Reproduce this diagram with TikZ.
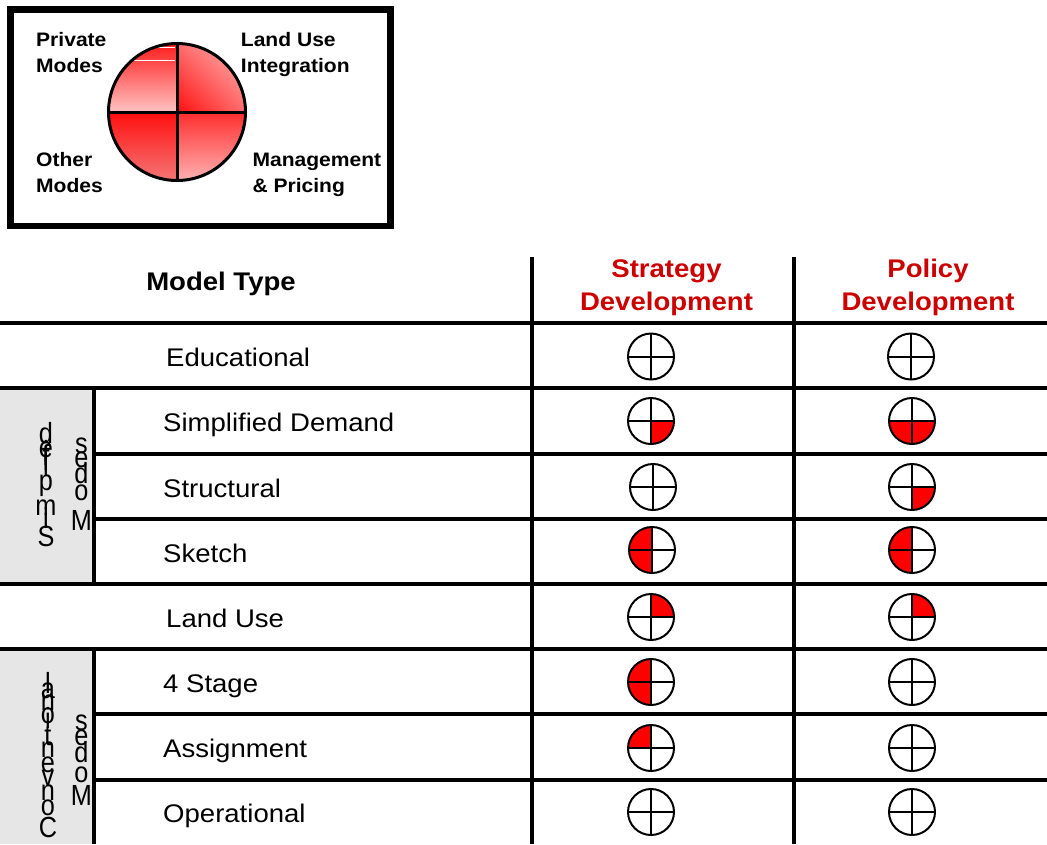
\documentclass[tikz,border=0pt]{standalone}
\usepackage{fontspec}
\setmainfont{Liberation Sans}[FakeStretch=1.08]
\usetikzlibrary{shadings}
\definecolor{hdrred}{RGB}{204,0,0}
\definecolor{boxgray}{RGB}{230,230,230}
\definecolor{qtltop}{RGB}{255,25,25}
\definecolor{qtlbot}{RGB}{255,195,195}
\definecolor{qtrll}{RGB}{255,15,15}
\definecolor{qtrur}{RGB}{255,190,190}
\definecolor{qtrmid}{RGB}{255,110,110}
\definecolor{qbltop}{RGB}{255,15,15}
\definecolor{qblbot}{RGB}{245,120,120}
\definecolor{qbrtop}{RGB}{255,45,45}
\definecolor{qbrbot}{RGB}{255,180,180}
\newcommand\qcirc[7]{%
  \coordinate (#1) at (#2,#3);
  \begin{scope}
    \clip (#1) circle[radius=23];
    \ifnum#4=1 \fill[red] (#1) rectangle ++(-25,-25);\fi
    \ifnum#5=1 \fill[red] (#1) rectangle ++(25,-25);\fi
    \ifnum#6=1 \fill[red] (#1) rectangle ++(-25,25);\fi
    \ifnum#7=1 \fill[red] (#1) rectangle ++(25,25);\fi
  \end{scope}
  \draw[line width=2pt] (#1) circle[radius=23];
  \draw[line width=2pt] (#1) ++(-23,0) -- ++(46,0);
  \draw[line width=2pt] (#1) ++(0,-23) -- ++(0,46);
}
\newcommand\stk[4]{\node[stkl] (#1) at (#2,#3) {\scalebox{0.9}[1.12]{#4}};}
\begin{document}
\begin{tikzpicture}[x=1pt,y=-1pt,
  rowtxt/.style={anchor=base west, font=\fontsize{25.5}{30}\selectfont, inner sep=0},
  hdr/.style={anchor=base, font=\fontsize{25.5}{30}\selectfont\bfseries, inner sep=0},
  leg/.style={anchor=base west, font=\fontsize{19.5}{24}\selectfont\bfseries, inner sep=0},
  gridline/.style={line width=4pt},
  stkl/.style={anchor=base, font=\fontsize{26}{26}\selectfont, inner sep=0},
]
\useasboundingbox (0,0) rectangle (1047,844);

% ---------- legend ----------
\draw[line width=6.5pt] (10.5,9.5) rectangle (390.5,226);
\coordinate (lc) at (177,112);
\begin{scope}
  \clip (lc) circle[radius=68.5];
  \shade[top color=qtltop, bottom color=qtlbot] (lc) rectangle ++(-70,-70);
  \shade[lower left=qtrll, upper right=qtrur, upper left=qtrmid, lower right=qtrmid] (lc) rectangle ++(70,-70);
  \shade[top color=qbltop, bottom color=qblbot] (lc) rectangle ++(-70,70);
  \shade[top color=qbrtop, bottom color=qbrbot] (lc) rectangle ++(70,70);
\end{scope}
\draw[white, line width=1pt] (157,47.3) -- (175,47.3);
\draw[white, line width=1pt] (133,60.7) -- (175,60.7);
\draw[line width=3pt] (lc) circle[radius=68.5];
\draw[line width=3pt] (lc) ++(-68.5,0) -- ++(137,0);
\draw[line width=3pt] (lc) ++(0,-68.5) -- ++(0,137);

\node[leg] (l1a) at (36,46) {Private};
\node[leg] (l1b) at (36,72.7) {Modes};
\node[leg] (l2a) at (240.7,46) {Land Use};
\node[leg] (l2b) at (240.7,72.7) {Integration};
\node[leg] (l3a) at (36,166.7) {Other};
\node[leg] (l3b) at (36,192.7) {Modes};
\node[leg] (l4a) at (252.3,166.7) {Management};
\node[leg] (l4b) at (252.3,192.7) {\& Pricing};

% ---------- table ----------
\fill[boxgray] (0,388) rectangle (94,584);
\fill[boxgray] (0,649) rectangle (94,844);

\draw[gridline] (0,323) -- (1047,323);
\draw[gridline] (0,388) -- (1047,388);
\draw[gridline] (94,454) -- (1047,454);
\draw[gridline] (94,519) -- (1047,519);
\draw[gridline] (0,584) -- (1047,584);
\draw[gridline] (0,649) -- (1047,649);
\draw[gridline] (94,714) -- (1047,714);
\draw[gridline] (94,780) -- (1047,780);
\draw[gridline] (94,386) -- (94,586);
\draw[gridline] (94,647) -- (94,844);
\draw[gridline] (532,257) -- (532,844);
\draw[gridline] (794,257) -- (794,844);

\node[hdr] (mt) at (221,290.7) {Model Type};
\node[hdr, text=hdrred] (sd1) at (666.5,277.5) {Strategy};
\node[hdr, text=hdrred] (sd2) at (666.5,310) {Development};
\node[hdr, text=hdrred] (pd1) at (928,277.5) {Policy};
\node[hdr, text=hdrred] (pd2) at (928,310) {Development};

\node[rowtxt] (r1) at (166,366.5) {Educational};
\node[rowtxt] (r2) at (163,431.5) {Simplified Demand};
\node[rowtxt] (r3) at (163,497) {Structural};
\node[rowtxt] (r4) at (163,562) {Sketch};
\node[rowtxt] (r5) at (166,627) {Land Use};
\node[rowtxt] (r6) at (163,692) {4 Stage};
\node[rowtxt] (r7) at (163,757.5) {Assignment};
\node[rowtxt] (r8) at (163,822.5) {Operational};

% strategy column
\qcirc{s1}{651}{356.5}{0}{0}{0}{0}
\qcirc{s2}{651}{421}{0}{0}{0}{1}
\qcirc{s3}{653}{487}{0}{0}{0}{0}
\qcirc{s4}{652}{550}{1}{0}{1}{0}
\qcirc{s5}{651}{617}{0}{1}{0}{0}
\qcirc{s6}{651}{682}{1}{0}{1}{0}
\qcirc{s7}{651}{748}{1}{0}{0}{0}
\qcirc{s8}{651}{812}{0}{0}{0}{0}
% policy column
\qcirc{p1}{911}{356.5}{0}{0}{0}{0}
\qcirc{p2}{912}{421}{0}{0}{1}{1}
\qcirc{p3}{912}{487}{0}{0}{0}{1}
\qcirc{p4}{912}{550}{1}{0}{1}{0}
\qcirc{p5}{912}{617}{0}{1}{0}{0}
\qcirc{p6}{912}{682}{0}{0}{0}{0}
\qcirc{p7}{912}{748}{0}{0}{0}{0}
\qcirc{p8}{912}{812}{0}{0}{0}{0}

% stacked group labels: Simplified Modes
\stk{a1}{46}{443}{d}
\stk{a2}{46}{457}{e}
\stk{a3}{46}{461}{i}
\stk{a4}{46}{465}{f}
\stk{a5}{46}{470}{i}
\stk{a6}{46}{475}{l}
\stk{a7}{46}{490}{p}
\stk{a8}{46}{515}{m}
\stk{a9}{46}{528}{i}
\stk{a10}{46}{546}{S}
\stk{b1}{81.5}{453}{s}
\stk{b2}{81.5}{467}{e}
\stk{b3}{81.5}{483}{d}
\stk{b4}{81.5}{500}{o}
\stk{b5}{81.5}{530}{M}
% Conventional Modes
\stk{c1}{48}{693}{l}
\stk{c2}{48}{698}{a}
\stk{c3}{48}{710}{n}
\stk{c4}{48}{723}{o}
\stk{c5}{48}{728}{i}
\stk{c6}{48}{745}{t}
\stk{c7}{48}{757}{n}
\stk{c8}{48}{772}{e}
\stk{c9}{48}{785}{v}
\stk{c10}{48}{800}{n}
\stk{c11}{48}{815}{o}
\stk{c12}{48}{837}{C}
\stk{d1}{81.5}{730}{s}
\stk{d2}{81.5}{745}{e}
\stk{d3}{81.5}{762}{d}
\stk{d4}{81.5}{782}{o}
\stk{d5}{81.5}{805}{M}
\end{tikzpicture}
\end{document}
